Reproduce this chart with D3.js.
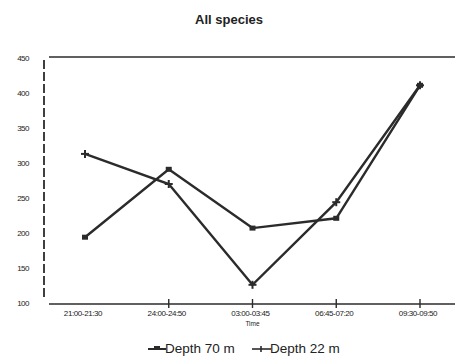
<!DOCTYPE html>
<meta charset="utf-8">
<style>
body { margin: 0; background: #fff; }
text { font-family: 'Liberation Sans', Arial, sans-serif; fill: #222; }
</style>
<body>
<script src="https://d3js.org/d3.v7.min.js"></script>
<script>
	var times = ["21:00-21:30", "24:00-24:50", "03:00-03:45", "06:45-07:20", "09:30-09:50"];
	var timeLabels = ["21:00-21:30", "24:00-24:50", "03:00-03:45", "06:45-07:20", "09:30-09:50"];
	var depth70 = [194, 291, 207, 221, 411];
	var depth22 = [313, 270, 126, 244, 411];
	var yTicks = [100, 150, 200, 250, 300, 350, 400, 450];

	var width = 455, height = 362;
	var ink = "#2b2b2b";

	var svg = d3.select("body").append("svg")
		.attr("width", width)
		.attr("height", height);

	var x = d3.scalePoint()
		.domain(times)
		.range([85, 420]);

	var y = d3.scaleLinear()
		.domain([100, 450])
		.range([303, 58]);

	// title
	svg.append("text")
		.attr("x", 229).attr("y", 24)
		.attr("text-anchor", "middle")
		.style("font-size", "13px")
		.style("font-weight", "bold")
		.text("All species");

	// frame: top line, dashed left axis, bottom axis
	svg.append("line")
		.attr("x1", 49).attr("x2", width)
		.attr("y1", y(450) - 1).attr("y2", y(450) - 1)
		.style("stroke", ink).style("stroke-width", 1.6);

	svg.append("line")
		.attr("x1", 44).attr("x2", 44)
		.attr("y1", 60).attr("y2", 300)
		.style("stroke", ink).style("stroke-width", 1.8)
		.style("stroke-dasharray", "9,3");

	svg.append("line")
		.attr("x1", 49).attr("x2", width)
		.attr("y1", 304).attr("y2", 304)
		.style("stroke", ink).style("stroke-width", 1.6);

	// y labels
	svg.selectAll(".ylab")
		.data(yTicks)
		.enter().append("text")
		.attr("class", "ylab")
		.attr("x", 29)
		.attr("y", function(d) { return y(d) + 3; })
		.attr("text-anchor", "end")
		.style("font-size", "8px")
		.style("letter-spacing", "-0.5px")
		.text(function(d) { return d; });

	// x ticks (the first one is hidden in the original)
	svg.selectAll(".xtick")
		.data(times.slice(1))
		.enter().append("line")
		.attr("x1", function(d) { return x(d); })
		.attr("x2", function(d) { return x(d); })
		.attr("y1", 299).attr("y2", 308)
		.style("stroke", ink).style("stroke-width", 1.4);

	svg.selectAll(".xlab")
		.data(times)
		.enter().append("text")
		.attr("x", function(d) { return x(d) - 2; })
		.attr("y", 316)
		.attr("text-anchor", "middle")
		.style("font-size", "8px")
		.style("letter-spacing", "-0.4px")
		.text(function(d, i) { return timeLabels[i]; });

	svg.append("text")
		.attr("x", x(times[2])).attr("y", 326)
		.attr("text-anchor", "middle")
		.style("font-size", "6.5px")
		.text("Time");

	// series
	var line = d3.line()
		.x(function(d, i) { return x(times[i]); })
		.y(function(d) { return y(d); });

	[depth70, depth22].forEach(function(series) {
		svg.append("path")
			.datum(series)
			.attr("d", line)
			.attr("fill", "none")
			.style("stroke", ink)
			.style("stroke-width", 2.4)
			.style("stroke-linejoin", "miter");
	});

	// square markers for depth 70
	svg.selectAll(".sq")
		.data(depth70)
		.enter().append("rect")
		.attr("x", function(d, i) { return x(times[i]) - 3; })
		.attr("y", function(d) { return y(d) - 2.5; })
		.attr("width", 6).attr("height", 5)
		.attr("fill", ink);

	// plus markers for depth 22
	var plus = svg.selectAll(".pl")
		.data(depth22)
		.enter().append("g")
		.attr("transform", function(d, i) { return "translate(" + x(times[i]) + "," + y(d) + ")"; });
	plus.append("line")
		.attr("x1", -4).attr("x2", 4).attr("y1", 0).attr("y2", 0)
		.style("stroke", ink).style("stroke-width", 2);
	plus.append("line")
		.attr("x1", 0).attr("x2", 0).attr("y1", -4).attr("y2", 4)
		.style("stroke", ink).style("stroke-width", 2);

	// legend
	var lg = svg.append("g").attr("transform", "translate(148,353)");
	lg.append("line").attr("x1", 0).attr("x2", 18).attr("y1", -4).attr("y2", -4)
		.style("stroke", ink).style("stroke-width", 2);
	lg.append("rect").attr("x", 6).attr("y", -7).attr("width", 6).attr("height", 4).attr("fill", ink);
	lg.append("text").attr("x", 17).attr("y", 0)
		.style("font-size", "13.5px")
		.text("Depth 70 m");

	lg.append("line").attr("x1", 104).attr("x2", 123).attr("y1", -4).attr("y2", -4)
		.style("stroke", ink).style("stroke-width", 1.6);
	lg.append("line").attr("x1", 113).attr("x2", 113).attr("y1", -7).attr("y2", -1)
		.style("stroke", ink).style("stroke-width", 1.6);
	lg.append("text").attr("x", 122).attr("y", 0)
		.style("font-size", "13.5px")
		.text("Depth 22 m");
</script>
</body>
